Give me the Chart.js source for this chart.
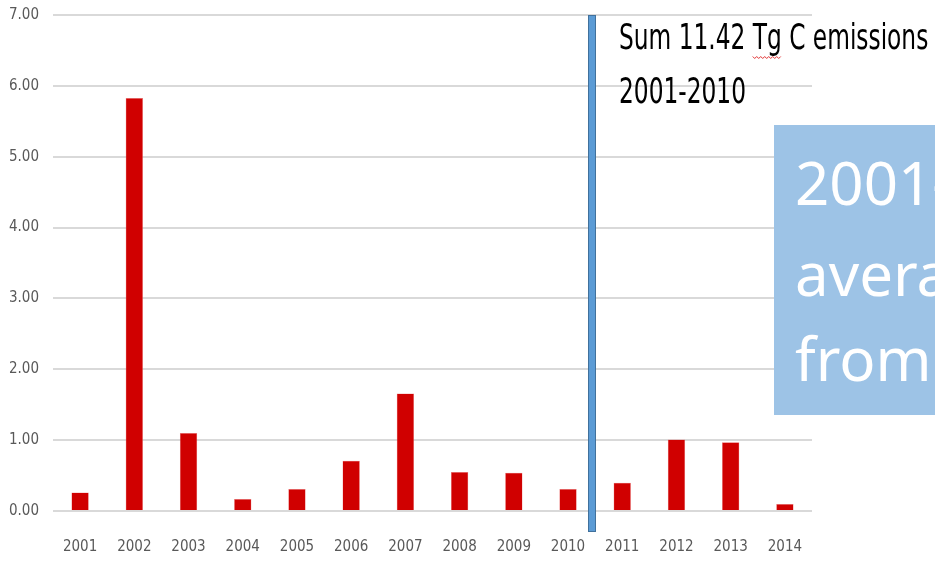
<!DOCTYPE html>
<html>
<head>
<meta charset="utf-8">
<script src="https://cdn.jsdelivr.net/npm/chart.js@4"></script>
<style>
  html, body { margin: 0; padding: 0; background: #fff; }
  #wrap { width: 935px; height: 561px; position: relative; }
</style>
</head>
<body>
<div id="wrap"><canvas id="Chart"></canvas></div>
<script>
let years = ["2001","2002","2003","2004","2005","2006","2007","2008","2009","2010","2011","2012","2013","2014"]
let emissions = [0.26, 5.83, 1.10, 0.17, 0.31, 0.71, 1.66, 0.55, 0.54, 0.31, 0.40, 1.01, 0.97, 0.10]
let yTicks = [0, 1, 2, 3, 4, 5, 6, 7]
let noteLines = ["Sum 11.42 Tg C emissions", "2001-2010"]
let boxLines = ["2001-2010", "average", "from"]

const narrow = '"DejaVu Sans Condensed", "DejaVu Sans", sans-serif'

// divider line, note text and the blue callout box
const extras = {
  id: "extras",
  afterDraw(chart){
    const ctx = chart.ctx
    const x = chart.scales.x
    const y = chart.scales.y
    const ca = chart.chartArea
    ctx.save()

    // vertical divider between 2010 and 2011
    const lx = Math.round(x.getPixelForValue(9.45))
    const top = y.getPixelForValue(7)
    ctx.fillStyle = "#41719c"
    ctx.fillRect(lx - 4, top, 8, ca.bottom + 21 - top)
    ctx.fillStyle = "#5b9bd5"
    ctx.fillRect(lx - 3, top + 1, 6, ca.bottom + 19 - top)

    // note, squeezed to look like a narrow font
    const sx = 0.74
    ctx.save()
    ctx.translate(lx + 27, 0)
    ctx.scale(sx, 1)
    ctx.fillStyle = "#000"
    ctx.font = "35px " + narrow
    ctx.textBaseline = "alphabetic"
    ctx.textAlign = "left"
    ctx.fillText(noteLines[0], 0, 49)
    ctx.fillText(noteLines[1], 0, 103)
    // spell-check squiggle under "Tg"
    const pre = ctx.measureText("Sum 11.42 ").width
    const tg = ctx.measureText("Tg").width
    ctx.restore()
    ctx.strokeStyle = "#e03030"
    ctx.lineWidth = 1
    ctx.beginPath()
    for (let i = 0; i <= tg * sx; i += 2){
      const px = lx + 27 + pre * sx + i
      const py = 57 + ((i / 2) % 2 ? 1.5 : -0.5)
      if (i === 0) ctx.moveTo(px, py); else ctx.lineTo(px, py)
    }
    ctx.stroke()

    // blue callout box
    ctx.fillStyle = "#9dc3e6"
    ctx.fillRect(774, 125, 200, 290)
    ctx.fillStyle = "#ffffff"
    ctx.font = '60px "Noto Sans", "Open Sans", sans-serif'
    ctx.fillText(boxLines[0], 795, 205)
    ctx.fillText(boxLines[1], 795, 296)
    ctx.fillText(boxLines[2], 795, 381)
    ctx.restore()
  }
}

new Chart("Chart", {
  type: "bar",
  data: {
    labels: years,
    datasets: [{
      data: emissions,
      backgroundColor: "#d00000",
      borderColor: "#ee8080",
      borderWidth: 0.5,
      barPercentage: 0.64,
      categoryPercentage: 0.5
    }]
  },
  options: {
    responsive: true,
    maintainAspectRatio: false,
    animation: false,
    layout: { padding: { left: 0, top: 15, right: 123, bottom: 0 } },
    plugins: { legend: { display: false }, tooltip: { enabled: false } },
    scales: {
      x: {
        grid: { display: false, drawTicks: false },
        border: { display: false },
        ticks: { color: "#595959", font: { family: narrow, size: 15 }, padding: 27, maxRotation: 0 },
        afterFit(s){ s.height = 50; s.paddingLeft = 0; s.paddingRight = 0 }
      },
      y: {
        min: 0,
        max: 7,
        afterBuildTicks(s){ s.ticks = yTicks.map(v => ({ value: v })) },
        grid: { color: "#d9d9d9", lineWidth: 2, drawTicks: false },
        border: { display: false },
        ticks: { color: "#595959", font: { family: narrow, size: 15 }, padding: 14, callback: v => v.toFixed(2) },
        afterFit(s){ s.width = 53; s.paddingTop = 0; s.paddingBottom = 0 }
      }
    }
  },
  plugins: [extras]
})
</script>
</body>
</html>
